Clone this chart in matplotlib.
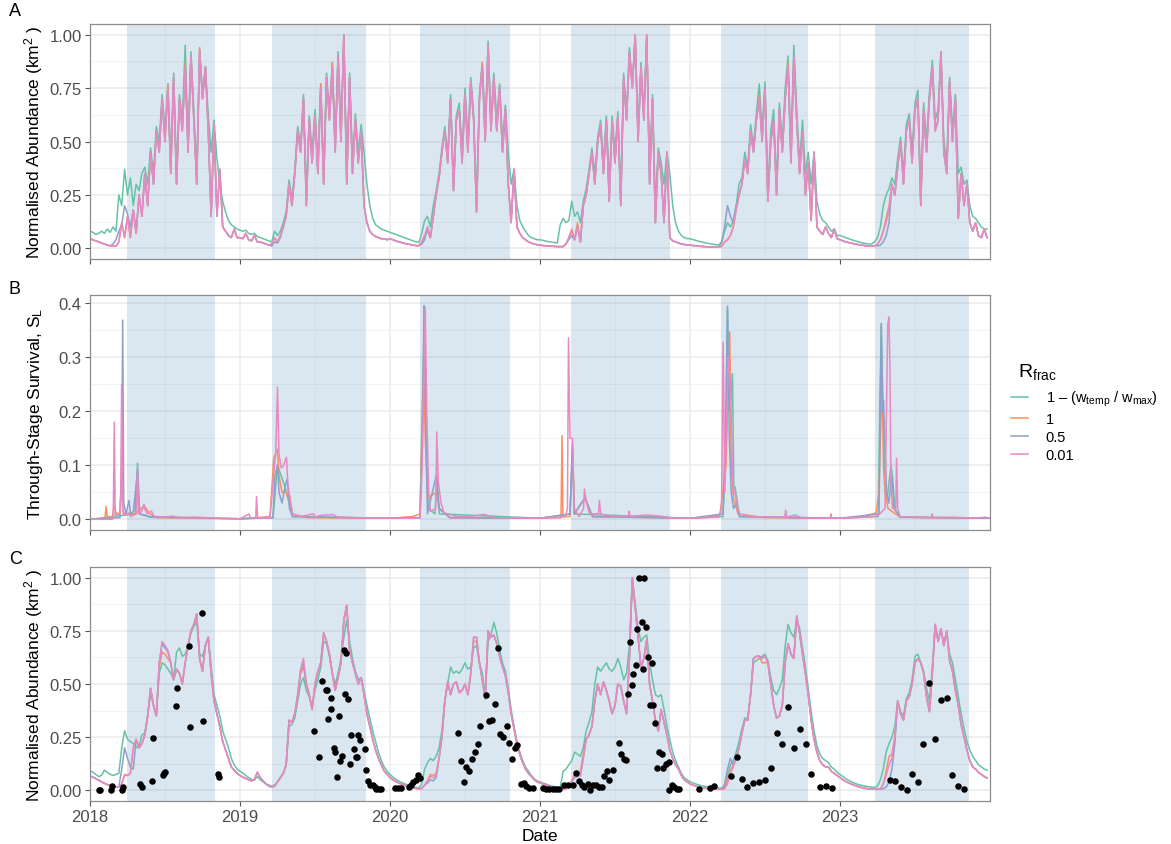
import numpy as np
import matplotlib
matplotlib.use("Agg")
import matplotlib.pyplot as plt
from matplotlib.lines import Line2D

plt.rcParams['font.family'] = 'Liberation Sans'
plt.rcParams['mathtext.fontset'] = 'custom'
plt.rcParams['mathtext.rm'] = 'Liberation Sans'
plt.rcParams['mathtext.it'] = 'Liberation Sans:italic'

# --- Season windows (decimal year) ---
season_start = [2018.246, 2019.215, 2020.198, 2021.204, 2022.209, 2023.233]
season_end = [2018.832, 2019.839, 2020.799, 2021.864, 2022.786, 2023.859]

years = [2018, 2019, 2020, 2021, 2022, 2023]

# --- Panel A: weekly normalised abundance, one row of 52 weeks per year ---
abund_pink = [
    0.045,0.04,0.035,0.03,0.025,0.02,0.015,0.012,0.01,0.01,0.03,0.12,0.05,0.15,0.05,0.18,0.07,0.25,0.15,0.35,0.2,0.45,0.3,0.55,0.45,0.7,
    0.5,0.75,0.35,0.8,0.3,0.7,0.55,0.85,0.45,0.9,0.6,0.3,0.92,0.7,0.85,0.55,0.15,0.58,0.15,0.37,0.1,0.08,0.06,0.05,0.09,0.05,
    0.05,0.045,0.07,0.04,0.035,0.06,0.03,0.03,0.025,0.02,0.015,0.02,0.05,0.03,0.06,0.1,0.15,0.3,0.2,0.35,0.55,0.45,0.7,0.2,0.6,0.4,
    0.62,0.35,0.75,0.3,0.8,0.6,0.85,0.45,0.9,0.5,1.0,0.3,0.8,0.35,0.6,0.4,0.55,0.2,0.12,0.08,0.065,0.055,0.05,0.045,0.045,0.04,
    0.045,0.04,0.035,0.03,0.027,0.023,0.02,0.018,0.015,0.013,0.012,0.03,0.06,0.1,0.05,0.15,0.25,0.33,0.45,0.55,0.4,0.7,0.27,0.6,0.65,0.4,
    0.72,0.45,0.78,0.6,0.17,0.7,0.85,0.5,0.95,0.55,0.8,0.55,0.75,0.45,0.65,0.3,0.12,0.37,0.1,0.07,0.05,0.04,0.03,0.025,0.02,0.017,
    0.015,0.013,0.012,0.01,0.01,0.009,0.008,0.008,0.008,0.02,0.05,0.08,0.04,0.1,0.03,0.2,0.25,0.35,0.45,0.3,0.5,0.58,0.35,0.6,0.22,0.6,
    0.4,0.62,0.2,0.8,0.6,0.92,0.75,1.0,0.5,0.85,0.6,1.0,0.3,0.7,0.12,0.45,0.35,0.12,0.45,0.05,0.035,0.03,0.025,0.02,0.018,0.015,
    0.015,0.013,0.012,0.01,0.009,0.008,0.007,0.006,0.006,0.005,0.005,0.01,0.03,0.04,0.06,0.1,0.18,0.25,0.3,0.42,0.35,0.55,0.45,0.6,0.7,0.5,
    0.75,0.22,0.5,0.6,0.25,0.65,0.45,0.7,0.85,0.4,0.9,0.6,0.35,0.55,0.25,0.4,0.13,0.45,0.1,0.08,0.065,0.1,0.07,0.05,0.09,0.045,
    0.04,0.035,0.03,0.027,0.024,0.021,0.018,0.016,0.014,0.012,0.01,0.01,0.012,0.02,0.04,0.08,0.12,0.18,0.3,0.25,0.38,0.5,0.3,0.55,0.6,0.4,
    0.65,0.7,0.2,0.65,0.45,0.7,0.85,0.55,0.6,0.92,0.45,0.35,0.78,0.5,0.7,0.14,0.35,0.2,0.3,0.12,0.08,0.12,0.06,0.05,0.09,0.05,
]
abund_orange = [
    0.045,0.04,0.035,0.03,0.025,0.02,0.015,0.012,0.01,0.01,0.03,0.12,0.05,0.15,0.05,0.18,0.07,0.25,0.15,0.35,0.2,0.45,0.3,0.55,0.45,0.7,
    0.5,0.77,0.35,0.8,0.3,0.7,0.55,0.87,0.45,0.9,0.6,0.3,0.94,0.7,0.85,0.55,0.15,0.58,0.15,0.37,0.1,0.08,0.06,0.05,0.09,0.05,
    0.05,0.045,0.07,0.04,0.035,0.06,0.03,0.03,0.025,0.02,0.015,0.02,0.05,0.03,0.06,0.1,0.15,0.3,0.2,0.35,0.55,0.45,0.7,0.2,0.6,0.4,
    0.62,0.35,0.77,0.3,0.8,0.6,0.87,0.45,0.9,0.5,1.0,0.3,0.8,0.35,0.6,0.4,0.55,0.2,0.12,0.08,0.065,0.055,0.05,0.045,0.045,0.04,
    0.045,0.04,0.035,0.03,0.027,0.023,0.02,0.018,0.015,0.013,0.012,0.03,0.06,0.08,0.05,0.15,0.25,0.33,0.45,0.55,0.4,0.7,0.27,0.6,0.65,0.4,
    0.72,0.45,0.78,0.6,0.17,0.7,0.87,0.5,0.95,0.55,0.8,0.55,0.75,0.45,0.65,0.3,0.12,0.37,0.1,0.07,0.05,0.04,0.03,0.025,0.02,0.017,
    0.015,0.013,0.012,0.01,0.01,0.009,0.008,0.008,0.008,0.02,0.05,0.09,0.04,0.12,0.03,0.2,0.25,0.35,0.45,0.3,0.5,0.58,0.35,0.6,0.22,0.6,
    0.4,0.62,0.2,0.8,0.6,0.92,0.75,1.0,0.5,0.85,0.6,1.0,0.3,0.7,0.12,0.45,0.35,0.12,0.45,0.05,0.035,0.03,0.025,0.02,0.018,0.015,
    0.015,0.013,0.012,0.01,0.009,0.008,0.007,0.006,0.006,0.005,0.005,0.01,0.03,0.04,0.06,0.1,0.18,0.25,0.3,0.42,0.35,0.55,0.45,0.6,0.72,0.5,
    0.75,0.22,0.5,0.6,0.25,0.65,0.45,0.7,0.87,0.4,0.9,0.6,0.35,0.55,0.25,0.4,0.13,0.45,0.1,0.08,0.065,0.1,0.07,0.05,0.09,0.045,
    0.04,0.035,0.03,0.027,0.024,0.021,0.018,0.016,0.014,0.012,0.01,0.01,0.012,0.02,0.04,0.08,0.14,0.2,0.3,0.25,0.38,0.5,0.3,0.55,0.6,0.4,
    0.65,0.7,0.2,0.65,0.45,0.7,0.85,0.55,0.6,0.92,0.45,0.35,0.78,0.5,0.7,0.14,0.35,0.2,0.3,0.12,0.08,0.12,0.06,0.05,0.09,0.05,
]
abund_blue = [
    0.045,0.04,0.035,0.03,0.025,0.02,0.015,0.012,0.02,0.04,0.08,0.11,0.2,0.16,0.1,0.18,0.07,0.25,0.15,0.35,0.2,0.45,0.3,0.55,0.45,0.7,
    0.5,0.75,0.35,0.8,0.3,0.7,0.55,0.85,0.45,0.9,0.6,0.3,0.92,0.7,0.85,0.55,0.15,0.58,0.15,0.37,0.1,0.08,0.06,0.05,0.09,0.05,
    0.05,0.045,0.07,0.04,0.035,0.06,0.03,0.03,0.025,0.02,0.015,0.01,0.03,0.025,0.05,0.1,0.15,0.3,0.2,0.35,0.55,0.45,0.7,0.2,0.6,0.4,
    0.62,0.35,0.75,0.3,0.8,0.6,0.85,0.45,0.9,0.5,1.0,0.3,0.8,0.35,0.6,0.4,0.55,0.2,0.12,0.08,0.065,0.055,0.05,0.045,0.045,0.04,
    0.045,0.04,0.035,0.03,0.027,0.023,0.02,0.018,0.015,0.013,0.012,0.02,0.04,0.1,0.05,0.15,0.25,0.33,0.45,0.55,0.4,0.7,0.27,0.6,0.65,0.4,
    0.72,0.45,0.78,0.6,0.17,0.7,0.85,0.5,0.95,0.55,0.8,0.55,0.75,0.45,0.65,0.3,0.12,0.37,0.1,0.07,0.05,0.04,0.03,0.025,0.02,0.017,
    0.015,0.013,0.012,0.01,0.01,0.009,0.008,0.008,0.008,0.02,0.04,0.06,0.04,0.1,0.03,0.2,0.25,0.35,0.45,0.3,0.5,0.58,0.35,0.6,0.22,0.6,
    0.4,0.62,0.2,0.8,0.6,0.92,0.75,1.0,0.5,0.85,0.6,1.0,0.3,0.7,0.12,0.45,0.35,0.12,0.45,0.05,0.035,0.03,0.025,0.02,0.018,0.015,
    0.015,0.013,0.012,0.01,0.009,0.008,0.007,0.006,0.006,0.005,0.005,0.03,0.1,0.2,0.15,0.12,0.2,0.25,0.3,0.42,0.35,0.55,0.45,0.6,0.7,0.5,
    0.75,0.22,0.5,0.6,0.25,0.65,0.45,0.7,0.85,0.4,0.9,0.6,0.35,0.55,0.25,0.4,0.13,0.45,0.1,0.08,0.065,0.1,0.07,0.05,0.09,0.045,
    0.04,0.035,0.03,0.027,0.024,0.021,0.018,0.016,0.014,0.012,0.01,0.01,0.012,0.012,0.015,0.03,0.06,0.12,0.3,0.25,0.38,0.5,0.3,0.55,0.6,0.4,
    0.65,0.7,0.2,0.65,0.45,0.7,0.85,0.55,0.6,0.92,0.45,0.35,0.78,0.5,0.7,0.14,0.35,0.2,0.3,0.12,0.08,0.12,0.06,0.05,0.09,0.05,
]
abund_green = [
    0.08,0.075,0.065,0.07,0.08,0.07,0.09,0.075,0.1,0.08,0.25,0.2,0.37,0.25,0.33,0.2,0.3,0.27,0.35,0.38,0.3,0.47,0.35,0.57,0.5,0.72,
    0.55,0.77,0.4,0.82,0.35,0.72,0.6,0.95,0.5,0.92,0.65,0.35,0.93,0.72,0.85,0.62,0.45,0.6,0.42,0.3,0.22,0.17,0.13,0.11,0.1,0.09,
    0.085,0.08,0.085,0.07,0.065,0.07,0.055,0.05,0.045,0.04,0.035,0.03,0.08,0.06,0.08,0.12,0.17,0.32,0.23,0.37,0.57,0.48,0.72,0.25,0.62,0.45,
    0.65,0.4,0.77,0.35,0.82,0.63,0.87,0.5,0.92,0.55,0.97,0.35,0.82,0.4,0.63,0.45,0.58,0.45,0.3,0.2,0.14,0.11,0.1,0.09,0.085,0.08,
    0.075,0.07,0.065,0.06,0.055,0.05,0.045,0.04,0.035,0.03,0.028,0.07,0.13,0.15,0.1,0.2,0.27,0.35,0.47,0.57,0.43,0.72,0.3,0.62,0.68,0.45,
    0.75,0.5,0.8,0.63,0.22,0.72,0.87,0.55,0.97,0.6,0.82,0.6,0.77,0.5,0.67,0.45,0.3,0.37,0.2,0.13,0.1,0.08,0.06,0.05,0.045,0.04,
    0.04,0.037,0.034,0.031,0.029,0.027,0.025,0.11,0.14,0.12,0.13,0.22,0.15,0.17,0.12,0.22,0.28,0.37,0.47,0.35,0.52,0.6,0.4,0.62,0.3,0.62,
    0.45,0.64,0.25,0.82,0.63,0.94,0.77,0.98,0.55,0.87,0.63,0.98,0.35,0.72,0.2,0.47,0.4,0.3,0.45,0.35,0.2,0.12,0.08,0.06,0.05,0.045,
    0.045,0.041,0.037,0.033,0.03,0.027,0.024,0.021,0.019,0.017,0.015,0.03,0.08,0.12,0.1,0.13,0.2,0.3,0.33,0.45,0.38,0.58,0.48,0.63,0.77,0.55,
    0.78,0.27,0.55,0.65,0.3,0.68,0.5,0.75,0.9,0.45,0.95,0.65,0.4,0.6,0.35,0.45,0.3,0.45,0.22,0.16,0.13,0.12,0.1,0.08,0.09,0.06,
    0.06,0.055,0.05,0.045,0.04,0.036,0.032,0.028,0.025,0.022,0.02,0.02,0.03,0.05,0.1,0.2,0.25,0.28,0.33,0.3,0.42,0.52,0.35,0.58,0.63,0.45,
    0.68,0.74,0.25,0.68,0.5,0.73,0.88,0.6,0.65,0.9,0.5,0.4,0.8,0.55,0.72,0.35,0.38,0.3,0.32,0.2,0.15,0.14,0.12,0.1,0.09,0.09,
]

# --- Panel B: through-stage survival, knots (decimal year, value) ---
surv_green_t = [2018.0, 2018.3, 2018.317, 2018.33, 2018.4,
                2019.0, 2019.22, 2019.25, 2019.3, 2019.35,
                2020.0, 2020.2, 2020.215, 2020.23, 2020.24, 2020.255, 2020.3, 2020.312, 2020.33,
                2021.0, 2021.2, 2021.217, 2021.23,
                2022.0, 2022.22, 2022.235, 2022.25, 2022.265, 2022.283, 2022.292, 2022.3, 2022.33,
                2023.0, 2023.255, 2023.265, 2023.275, 2023.285, 2023.3, 2023.315, 2023.34, 2023.35, 2023.365, 2023.4, 2024.0]
surv_green_v = [0.0, 0.01, 0.104, 0.01, 0.004,
                0.001, 0.003, 0.1, 0.06, 0.005,
                0.002, 0.003, 0.2, 0.395, 0.15, 0.02, 0.01, 0.08, 0.01,
                0.002, 0.01, 0.13, 0.01,
                0.002, 0.005, 0.1, 0.39, 0.2, 0.27, 0.06, 0.06, 0.005,
                0.002, 0.005, 0.2, 0.36, 0.22, 0.06, 0.04, 0.1, 0.08, 0.02, 0.004, 0.002]

surv_orange_t = [2018.0, 2018.1, 2018.107, 2018.115, 2018.15, 2018.16, 2018.175, 2018.2, 2018.211, 2018.22, 2018.3, 2018.36, 2018.4, 2018.45,
                 2019.0, 2019.2, 2019.225, 2019.25, 2019.26, 2019.28, 2019.31, 2019.318, 2019.33, 2019.35, 2019.45,
                 2020.0, 2020.15, 2020.2, 2020.224, 2020.235, 2020.25, 2020.312, 2020.33, 2020.4,
                 2021.0, 2021.14, 2021.147, 2021.153, 2021.2, 2021.217, 2021.23, 2021.3, 2021.35,
                 2022.0, 2022.1, 2022.2, 2022.24, 2022.265, 2022.275, 2022.29, 2022.32, 2022.5,
                 2023.0, 2023.15, 2023.24, 2023.26, 2023.28, 2023.29, 2023.3, 2023.32, 2023.4, 2024.0]
surv_orange_v = [0.0, 0.002, 0.024, 0.005, 0.005, 0.025, 0.012, 0.01, 0.09, 0.01, 0.01, 0.025, 0.01, 0.003,
                 0.001, 0.005, 0.113, 0.13, 0.08, 0.05, 0.05, 0.04, 0.045, 0.01, 0.003,
                 0.002, 0.005, 0.01, 0.283, 0.15, 0.04, 0.05, 0.02, 0.003,
                 0.002, 0.003, 0.155, 0.005, 0.005, 0.13, 0.01, 0.04, 0.005,
                 0.002, 0.004, 0.008, 0.1, 0.347, 0.1, 0.04, 0.01, 0.003,
                 0.002, 0.005, 0.012, 0.05, 0.263, 0.1, 0.05, 0.02, 0.004, 0.002]

surv_blue_t = [2018.0, 2018.2, 2018.212, 2018.218, 2018.225, 2018.24, 2018.26, 2018.27, 2018.29, 2018.317, 2018.33, 2018.4,
               2019.0, 2019.22, 2019.232, 2019.25, 2019.26, 2019.28, 2019.3, 2019.315, 2019.33, 2019.35,
               2020.0, 2020.2, 2020.22, 2020.226, 2020.237, 2020.25, 2020.31, 2020.325, 2020.4,
               2021.0, 2021.2, 2021.215, 2021.228, 2021.3, 2021.35,
               2022.0, 2022.22, 2022.24, 2022.25, 2022.262, 2022.275, 2022.29, 2022.31, 2022.33,
               2023.0, 2023.26, 2023.275, 2023.285, 2023.29, 2023.31, 2023.325, 2023.345, 2023.36, 2023.4, 2024.0]
surv_blue_v = [0.0, 0.003, 0.1, 0.369, 0.03, 0.01, 0.035, 0.01, 0.015, 0.09, 0.01, 0.005,
               0.001, 0.003, 0.08, 0.1, 0.05, 0.03, 0.06, 0.075, 0.02, 0.005,
               0.002, 0.003, 0.2, 0.396, 0.2, 0.01, 0.084, 0.02, 0.003,
               0.002, 0.01, 0.14, 0.01, 0.04, 0.005,
               0.002, 0.01, 0.2, 0.395, 0.15, 0.05, 0.02, 0.03, 0.005,
               0.002, 0.01, 0.363, 0.2, 0.22, 0.05, 0.03, 0.08, 0.02, 0.004, 0.002]

surv_pink_t = [2018.0, 2018.15, 2018.155, 2018.162, 2018.168, 2018.2, 2018.205, 2018.211, 2018.218, 2018.23,
               2018.26, 2018.27, 2018.31, 2018.317, 2018.325, 2018.345, 2018.36, 2018.367, 2018.38, 2018.41,
               2018.43, 2018.5, 2018.55, 2018.6, 2018.7, 2018.85,
               2019.0, 2019.06, 2019.07, 2019.105, 2019.11, 2019.118, 2019.2, 2019.23, 2019.238, 2019.25,
               2019.26, 2019.275, 2019.29, 2019.31, 2019.318, 2019.33, 2019.35, 2019.4, 2019.49, 2019.5,
               2019.53, 2019.62, 2019.65, 2019.75, 2019.9,
               2020.0, 2020.2, 2020.215, 2020.235, 2020.245, 2020.258, 2020.27, 2020.305, 2020.312, 2020.322,
               2020.34, 2020.36, 2020.45, 2020.55, 2020.63, 2020.7,
               2021.0, 2021.17, 2021.183, 2021.19, 2021.2, 2021.217, 2021.228, 2021.26, 2021.29, 2021.296,
               2021.31, 2021.33, 2021.39, 2021.396, 2021.405, 2021.5, 2021.59, 2021.595, 2021.6, 2021.7,
               2021.8, 2021.9,
               2022.0, 2022.19, 2022.21, 2022.221, 2022.232, 2022.255, 2022.27, 2022.28, 2022.29, 2022.3,
               2022.31, 2022.33, 2022.4, 2022.632, 2022.638, 2022.645, 2022.7, 2022.75, 2022.935, 2022.94,
               2022.945,
               2023.0, 2023.1, 2023.25, 2023.3, 2023.31, 2023.318, 2023.326, 2023.333, 2023.34, 2023.35,
               2023.372, 2023.377, 2023.385, 2023.4, 2023.5, 2023.61, 2023.615, 2023.62, 2023.75, 2023.9,
               2023.97, 2024.0]
surv_pink_v = [0.0, 0.0, 0.005, 0.18, 0.008, 0.01, 0.05, 0.25, 0.02, 0.008,
               0.012, 0.005, 0.01, 0.095, 0.01, 0.015, 0.028, 0.018, 0.01, 0.015,
               0.003, 0.004, 0.006, 0.003, 0.004, 0.002,
               0.001, 0.01, 0.002, 0.003, 0.042, 0.002, 0.003, 0.1, 0.12, 0.245,
               0.12, 0.095, 0.1, 0.115, 0.07, 0.04, 0.01, 0.005, 0.01, 0.004,
               0.007, 0.009, 0.004, 0.003, 0.002,
               0.002, 0.002, 0.1, 0.392, 0.2, 0.05, 0.015, 0.02, 0.162, 0.07,
               0.03, 0.012, 0.005, 0.006, 0.009, 0.003,
               0.002, 0.005, 0.02, 0.336, 0.15, 0.15, 0.02, 0.005, 0.02, 0.056,
               0.03, 0.01, 0.01, 0.035, 0.01, 0.005, 0.006, 0.015, 0.005, 0.008,
               0.006, 0.002,
               0.002, 0.004, 0.02, 0.328, 0.05, 0.3, 0.25, 0.12, 0.045, 0.055,
               0.03, 0.01, 0.005, 0.004, 0.017, 0.004, 0.008, 0.002, 0.002, 0.01,
               0.002,
               0.002, 0.003, 0.006, 0.02, 0.2, 0.36, 0.375, 0.28, 0.06, 0.02,
               0.02, 0.113, 0.02, 0.005, 0.004, 0.003, 0.01, 0.003, 0.004, 0.002,
               0.004, 0.002]

# --- Panel C: smoothed weekly abundance, 52 weeks per year ---
smooth_pink = [
    0.068,0.062,0.055,0.048,0.04,0.033,0.027,0.022,0.018,0.016,0.015,0.03,0.07,0.07,0.08,0.2,0.24,0.2,0.22,0.26,0.35,0.48,0.4,0.35,0.6,0.7,
    0.68,0.66,0.6,0.52,0.57,0.55,0.5,0.6,0.68,0.75,0.78,0.83,0.62,0.56,0.68,0.72,0.55,0.42,0.36,0.3,0.23,0.19,0.15,0.11,0.095,0.08,
    0.07,0.062,0.056,0.05,0.045,0.05,0.085,0.06,0.045,0.03,0.02,0.015,0.02,0.04,0.06,0.08,0.12,0.33,0.32,0.36,0.45,0.57,0.62,0.5,0.45,0.38,
    0.5,0.56,0.6,0.74,0.7,0.64,0.55,0.47,0.53,0.6,0.8,0.87,0.66,0.6,0.55,0.5,0.53,0.45,0.36,0.3,0.24,0.19,0.15,0.12,0.09,0.075,
    0.06,0.05,0.042,0.035,0.029,0.024,0.019,0.015,0.012,0.009,0.006,0.01,0.025,0.045,0.065,0.06,0.07,0.15,0.25,0.42,0.51,0.45,0.5,0.51,0.46,0.47,
    0.5,0.45,0.55,0.72,0.72,0.6,0.52,0.43,0.75,0.72,0.73,0.69,0.63,0.58,0.54,0.46,0.36,0.29,0.22,0.17,0.13,0.1,0.08,0.065,0.05,0.04,
    0.035,0.03,0.025,0.02,0.016,0.013,0.01,0.008,0.006,0.008,0.02,0.045,0.07,0.065,0.07,0.15,0.24,0.26,0.3,0.42,0.5,0.45,0.51,0.47,0.42,0.36,
    0.4,0.5,0.49,0.42,0.36,0.62,1.0,0.86,0.72,0.58,0.62,0.71,0.5,0.42,0.33,0.28,0.38,0.32,0.26,0.19,0.15,0.12,0.1,0.07,0.05,0.04,
    0.03,0.025,0.02,0.016,0.013,0.011,0.009,0.008,0.007,0.006,0.005,0.005,0.008,0.03,0.08,0.11,0.15,0.2,0.27,0.33,0.33,0.45,0.62,0.63,0.63,0.62,
    0.63,0.6,0.5,0.4,0.34,0.35,0.4,0.6,0.69,0.64,0.62,0.82,0.74,0.64,0.55,0.45,0.33,0.24,0.18,0.14,0.12,0.11,0.11,0.09,0.08,0.07,
    0.06,0.05,0.042,0.035,0.029,0.024,0.019,0.015,0.012,0.009,0.007,0.006,0.005,0.005,0.006,0.03,0.07,0.12,0.15,0.25,0.42,0.36,0.33,0.42,0.44,0.5,
    0.6,0.62,0.6,0.55,0.44,0.37,0.55,0.78,0.7,0.76,0.68,0.75,0.61,0.56,0.47,0.4,0.31,0.25,0.19,0.14,0.11,0.1,0.085,0.075,0.065,0.058,
]
smooth_orange = [
    0.068,0.062,0.055,0.048,0.04,0.033,0.027,0.022,0.018,0.016,0.015,0.03,0.075,0.07,0.08,0.2,0.24,0.2,0.22,0.26,0.35,0.48,0.4,0.35,0.58,0.65,
    0.64,0.62,0.6,0.52,0.57,0.55,0.5,0.6,0.68,0.75,0.78,0.83,0.62,0.56,0.68,0.72,0.55,0.42,0.36,0.3,0.23,0.19,0.15,0.11,0.095,0.08,
    0.07,0.062,0.056,0.05,0.045,0.05,0.085,0.06,0.045,0.03,0.02,0.015,0.02,0.04,0.06,0.08,0.12,0.33,0.32,0.36,0.44,0.55,0.58,0.5,0.45,0.38,
    0.5,0.56,0.6,0.74,0.7,0.64,0.55,0.47,0.53,0.6,0.8,0.87,0.66,0.6,0.55,0.5,0.53,0.45,0.36,0.3,0.24,0.19,0.15,0.12,0.09,0.075,
    0.06,0.05,0.042,0.035,0.029,0.024,0.019,0.015,0.012,0.009,0.006,0.01,0.025,0.045,0.075,0.07,0.08,0.15,0.25,0.42,0.51,0.45,0.5,0.51,0.46,0.47,
    0.5,0.45,0.55,0.7,0.7,0.6,0.52,0.43,0.75,0.72,0.73,0.69,0.63,0.58,0.54,0.46,0.36,0.29,0.22,0.17,0.13,0.1,0.08,0.065,0.05,0.04,
    0.035,0.03,0.025,0.02,0.016,0.013,0.01,0.008,0.006,0.008,0.02,0.045,0.08,0.075,0.09,0.17,0.24,0.26,0.3,0.42,0.5,0.45,0.51,0.47,0.42,0.36,
    0.4,0.5,0.49,0.42,0.36,0.62,1.0,0.86,0.72,0.58,0.62,0.71,0.5,0.42,0.33,0.28,0.38,0.32,0.26,0.19,0.15,0.12,0.1,0.07,0.05,0.04,
    0.03,0.025,0.02,0.016,0.013,0.011,0.009,0.008,0.007,0.006,0.005,0.005,0.008,0.05,0.09,0.12,0.15,0.2,0.27,0.33,0.33,0.45,0.62,0.63,0.63,0.6,
    0.6,0.6,0.5,0.4,0.34,0.35,0.4,0.6,0.69,0.64,0.62,0.82,0.74,0.64,0.55,0.45,0.33,0.24,0.18,0.14,0.12,0.11,0.11,0.09,0.08,0.07,
    0.06,0.05,0.042,0.035,0.029,0.024,0.019,0.015,0.012,0.009,0.007,0.006,0.005,0.005,0.006,0.03,0.09,0.16,0.17,0.25,0.42,0.36,0.33,0.42,0.44,0.5,
    0.6,0.62,0.6,0.55,0.44,0.37,0.55,0.78,0.7,0.76,0.68,0.75,0.61,0.56,0.47,0.4,0.31,0.25,0.19,0.14,0.11,0.1,0.085,0.075,0.065,0.058,
]
smooth_blue = [
    0.068,0.062,0.055,0.048,0.04,0.033,0.027,0.022,0.018,0.016,0.015,0.1,0.2,0.15,0.11,0.1,0.24,0.2,0.22,0.26,0.35,0.48,0.4,0.35,0.6,0.69,
    0.67,0.65,0.6,0.52,0.57,0.55,0.5,0.6,0.68,0.75,0.78,0.83,0.62,0.56,0.68,0.72,0.55,0.42,0.36,0.3,0.23,0.19,0.15,0.11,0.095,0.08,
    0.07,0.062,0.056,0.05,0.045,0.05,0.085,0.06,0.045,0.03,0.02,0.015,0.02,0.04,0.06,0.08,0.12,0.33,0.32,0.36,0.45,0.56,0.6,0.5,0.45,0.38,
    0.5,0.56,0.6,0.74,0.7,0.64,0.55,0.47,0.53,0.6,0.8,0.87,0.66,0.6,0.55,0.5,0.53,0.45,0.36,0.3,0.24,0.19,0.15,0.12,0.09,0.075,
    0.06,0.05,0.042,0.035,0.029,0.024,0.019,0.015,0.012,0.009,0.006,0.01,0.025,0.035,0.05,0.045,0.06,0.15,0.25,0.42,0.51,0.45,0.5,0.51,0.46,0.47,
    0.5,0.45,0.55,0.72,0.72,0.6,0.52,0.43,0.75,0.72,0.73,0.69,0.63,0.58,0.54,0.46,0.36,0.29,0.22,0.17,0.13,0.1,0.08,0.065,0.05,0.04,
    0.035,0.03,0.025,0.02,0.016,0.013,0.01,0.008,0.006,0.008,0.02,0.04,0.06,0.065,0.07,0.15,0.24,0.26,0.3,0.42,0.5,0.45,0.51,0.47,0.42,0.36,
    0.4,0.5,0.49,0.42,0.36,0.62,1.0,0.86,0.72,0.58,0.62,0.71,0.5,0.42,0.33,0.28,0.38,0.32,0.26,0.19,0.15,0.12,0.1,0.07,0.05,0.04,
    0.03,0.025,0.02,0.016,0.013,0.011,0.009,0.008,0.007,0.006,0.005,0.005,0.03,0.1,0.15,0.12,0.15,0.2,0.27,0.33,0.33,0.45,0.62,0.63,0.63,0.62,
    0.63,0.6,0.5,0.4,0.34,0.35,0.4,0.6,0.69,0.64,0.62,0.82,0.74,0.64,0.55,0.45,0.33,0.24,0.18,0.14,0.12,0.11,0.11,0.09,0.08,0.07,
    0.06,0.05,0.042,0.035,0.029,0.024,0.019,0.015,0.012,0.009,0.007,0.006,0.005,0.005,0.006,0.008,0.015,0.04,0.1,0.22,0.42,0.36,0.33,0.42,0.44,0.5,
    0.6,0.62,0.6,0.55,0.44,0.37,0.55,0.78,0.7,0.76,0.68,0.75,0.61,0.56,0.47,0.4,0.31,0.25,0.19,0.14,0.11,0.1,0.085,0.075,0.065,0.058,
]
smooth_green = [
    0.092,0.085,0.075,0.065,0.07,0.095,0.085,0.075,0.07,0.075,0.08,0.2,0.28,0.24,0.23,0.22,0.2,0.21,0.26,0.27,0.35,0.46,0.4,0.36,0.55,0.6,
    0.59,0.57,0.55,0.52,0.65,0.67,0.63,0.64,0.68,0.74,0.77,0.79,0.64,0.63,0.68,0.72,0.58,0.45,0.4,0.35,0.28,0.24,0.2,0.15,0.12,0.1,
    0.09,0.08,0.07,0.06,0.052,0.048,0.065,0.05,0.04,0.03,0.025,0.02,0.025,0.04,0.06,0.08,0.12,0.3,0.31,0.34,0.42,0.5,0.53,0.47,0.44,0.4,
    0.47,0.52,0.58,0.7,0.69,0.63,0.55,0.5,0.55,0.62,0.72,0.8,0.7,0.62,0.56,0.52,0.53,0.47,0.4,0.34,0.28,0.23,0.18,0.14,0.11,0.09,
    0.075,0.062,0.052,0.044,0.037,0.031,0.026,0.021,0.017,0.014,0.012,0.03,0.1,0.13,0.15,0.14,0.16,0.2,0.28,0.42,0.5,0.58,0.55,0.56,0.55,0.57,
    0.6,0.57,0.58,0.67,0.68,0.6,0.55,0.45,0.7,0.73,0.79,0.74,0.66,0.6,0.56,0.48,0.38,0.3,0.23,0.18,0.14,0.11,0.09,0.07,0.055,0.045,
    0.04,0.035,0.03,0.025,0.021,0.018,0.015,0.012,0.09,0.1,0.12,0.14,0.18,0.17,0.16,0.2,0.28,0.32,0.37,0.5,0.58,0.56,0.58,0.6,0.57,0.56,
    0.58,0.62,0.58,0.52,0.55,0.68,0.98,0.88,0.76,0.7,0.72,0.73,0.6,0.52,0.45,0.44,0.45,0.38,0.3,0.24,0.18,0.14,0.11,0.08,0.06,0.05,
    0.04,0.035,0.03,0.026,0.022,0.019,0.017,0.015,0.013,0.012,0.011,0.011,0.015,0.07,0.12,0.14,0.18,0.23,0.29,0.34,0.34,0.45,0.6,0.61,0.62,0.63,
    0.64,0.61,0.53,0.47,0.45,0.48,0.52,0.68,0.78,0.74,0.72,0.8,0.76,0.67,0.58,0.48,0.37,0.28,0.21,0.17,0.15,0.14,0.13,0.11,0.1,0.085,
    0.075,0.065,0.055,0.047,0.04,0.034,0.029,0.025,0.022,0.019,0.017,0.015,0.014,0.02,0.05,0.1,0.18,0.22,0.25,0.3,0.42,0.37,0.35,0.43,0.46,0.52,
    0.63,0.64,0.6,0.56,0.48,0.42,0.58,0.77,0.71,0.75,0.7,0.74,0.64,0.6,0.52,0.44,0.36,0.29,0.23,0.19,0.16,0.14,0.12,0.11,0.1,0.095,
]

# --- Panel C: observed abundance (decimal year, value) ---
obs_t = [2018.06, 2018.067, 2018.14, 2018.144, 2018.211, 2018.218, 2018.333, 2018.344, 2018.41, 2018.417,
         2018.484, 2018.493, 2018.499, 2018.573, 2018.577, 2018.666, 2018.661, 2018.744, 2018.75, 2018.854, 2018.859,
         2019.491, 2019.527, 2019.549, 2019.571, 2019.582, 2019.587, 2019.605, 2019.609, 2019.627, 2019.636,
         2019.647, 2019.66, 2019.664, 2019.682, 2019.691, 2019.698, 2019.709, 2019.72, 2019.735, 2019.742,
         2019.76, 2019.771, 2019.782, 2019.787, 2019.798, 2019.835, 2019.838, 2019.853, 2019.864, 2019.886,
         2019.898, 2019.909, 2019.926, 2019.937,
         2020.031, 2020.053, 2020.075, 2020.126, 2020.142, 2020.153, 2020.171, 2020.186, 2020.202,
         2020.452, 2020.47, 2020.49, 2020.508, 2020.525, 2020.548, 2020.568, 2020.585, 2020.603,
         2020.641, 2020.663, 2020.681, 2020.7, 2020.718, 2020.734, 2020.756, 2020.778, 2020.796, 2020.814,
         2020.83, 2020.847, 2020.874, 2020.89, 2020.907, 2020.929, 2020.952,
         2021.018, 2021.041, 2021.063, 2021.085, 2021.107, 2021.129,
         2021.162, 2021.185, 2021.218, 2021.24, 2021.258, 2021.28, 2021.296, 2021.318, 2021.334, 2021.356,
         2021.373, 2021.396, 2021.413, 2021.429, 2021.447, 2021.462, 2021.484, 2021.524, 2021.54, 2021.562,
         2021.573, 2021.584, 2021.6, 2021.61, 2021.622, 2021.64, 2021.644, 2021.657, 2021.677, 2021.684,
         2021.695, 2021.706, 2021.717, 2021.733, 2021.746, 2021.75, 2021.768, 2021.779, 2021.791, 2021.81,
         2021.822, 2021.84, 2021.857, 2021.857, 2021.879, 2021.895, 2021.912, 2021.928,
         2022.061, 2022.135, 2022.157, 2022.272, 2022.31, 2022.349, 2022.383, 2022.423, 2022.461, 2022.501,
         2022.543, 2022.578, 2022.616, 2022.656, 2022.694, 2022.731, 2022.772, 2022.809, 2022.867, 2022.905,
         2022.944,
         2023.331, 2023.366, 2023.404, 2023.444, 2023.482, 2023.519, 2023.555, 2023.592, 2023.632, 2023.67,
         2023.71, 2023.748, 2023.786, 2023.826]
obs_v = [0.0, 0.0, 0.003, 0.02, 0.0, 0.015, 0.03, 0.014, 0.045, 0.248,
         0.073, 0.08, 0.086, 0.397, 0.483, 0.296, 0.678, 0.832, 0.327, 0.078, 0.064,
         0.279, 0.156, 0.516, 0.474, 0.47, 0.335, 0.382, 0.433, 0.198, 0.182,
         0.064, 0.349, 0.137, 0.162, 0.662, 0.452, 0.646, 0.428, 0.126, 0.259,
         0.196, 0.159, 0.159, 0.26, 0.235, 0.196, 0.097, 0.042, 0.026, 0.023,
         0.014, 0.008, 0.008, 0.008,
         0.01, 0.01, 0.01, 0.015, 0.026, 0.04, 0.05, 0.07, 0.06,
         0.268, 0.14, 0.037, 0.109, 0.092, 0.146, 0.18, 0.217, 0.304,
         0.447, 0.327, 0.333, 0.405, 0.67, 0.263, 0.252, 0.304, 0.224, 0.146,
         0.198, 0.213, 0.031, 0.034, 0.022, 0.011, 0.011,
         0.011, 0.008, 0.008, 0.008, 0.008, 0.008,
         0.023, 0.023, 0.023, 0.08, 0.045, 0.023, 0.016, 0.03, 0.003, 0.023,
         0.023, 0.014, 0.014, 0.068, 0.092, 0.05, 0.097, 0.224, 0.171, 0.146,
         0.143, 0.452, 0.696, 0.497, 0.548, 0.59, 0.759, 1.0, 0.793, 0.569,
         1.0, 0.766, 0.626, 0.4, 0.6, 0.4, 0.319, 0.107, 0.179, 0.171,
         0.107, 0.125, 0.135, 0.0, 0.023, 0.014, 0.008, 0.008,
         0.008, 0.011, 0.022, 0.068, 0.156, 0.053, 0.014, 0.034, 0.037, 0.047,
         0.104, 0.268, 0.218, 0.393, 0.2, 0.287, 0.218, 0.078, 0.014, 0.019,
         0.011,
         0.05, 0.042, 0.014, 0.003, 0.076, 0.039, 0.218, 0.506, 0.24, 0.427,
         0.435, 0.07, 0.019, 0.008]

series_labels = ['1 – (w$\\mathregular{_{temp}}$ / w$\\mathregular{_{max}}$)', '1', '0.5', '0.01']
colours = ['#66C2A5', '#FC8D62', '#8DA0CB', '#E78AC3']

# weekly time grid shared by panels A and C
week_t = np.concatenate([y + np.arange(52) / 52 for y in years])
for arr in (abund_pink, abund_orange, abund_blue, abund_green,
            smooth_pink, smooth_orange, smooth_blue, smooth_green):
    assert len(arr) == len(week_t), len(arr)
assert len(obs_t) == len(obs_v)

# --- Figure layout ---
fig = plt.figure(figsize=(11.71, 8.45), dpi=100)
left, width = 90 / 1171, 900 / 1171
ax_a = fig.add_axes([left, 1 - 260 / 845, width, 235 / 845])
ax_b = fig.add_axes([left, 1 - 531 / 845, width, 235 / 845])
ax_c = fig.add_axes([left, 1 - 802 / 845, width, 234 / 845])


def style_panel(ax, ymajor, yminor, ylim, ylabels):
    ax.set_xlim(2018, 2024)
    ax.set_ylim(*ylim)
    ax.set_xticks(years)
    ax.set_xticklabels([str(y) for y in years])
    ax.set_xticks(np.arange(2018.5, 2024, 1), minor=True)
    ax.set_yticks(ymajor)
    ax.set_yticklabels(ylabels)
    ax.set_yticks(yminor, minor=True)
    ax.set_axisbelow(True)
    ax.grid(which='major', color='#EBEBEB', lw=1.1)
    ax.grid(which='minor', color='#F2F2F2', lw=0.6)
    for sp in ax.spines.values():
        sp.set_color('#8C8C8C')
        sp.set_linewidth(0.9)
    ax.tick_params(which='major', length=3.5, width=0.8, color='#555555',
                   labelsize=12, labelcolor='#4D4D4D', pad=2.5)
    ax.tick_params(which='minor', length=0)
    for s, e in zip(season_start, season_end):
        ax.axvspan(s, e, color='steelblue', alpha=0.2, lw=0, zorder=1)
    ax.yaxis.set_label_coords(-0.05, 0.5)


abund_ticks = [0, 0.25, 0.5, 0.75, 1.0]
abund_minor = [0.125, 0.375, 0.625, 0.875]
abund_labels = ['0.00', '0.25', '0.50', '0.75', '1.00']

# Panel A
style_panel(ax_a, abund_ticks, abund_minor, (-0.05, 1.05), abund_labels)
for vals, col in zip([abund_green, abund_orange, abund_blue, abund_pink], colours):
    ax_a.plot(week_t, vals, color=col, lw=1.1, zorder=2)
ax_a.tick_params(labelbottom=False)
ax_a.set_ylabel('Normalised Abundance (km$\\mathregular{^2}$ )', fontsize=12.5)

# Panel B
style_panel(ax_b, [0, 0.1, 0.2, 0.3, 0.4], [0.05, 0.15, 0.25, 0.35],
            (-0.0198, 0.4155), ['0.0', '0.1', '0.2', '0.3', '0.4'])
surv = [(surv_green_t, surv_green_v), (surv_orange_t, surv_orange_v),
        (surv_blue_t, surv_blue_v), (surv_pink_t, surv_pink_v)]
for (t, v), col in zip(surv, colours):
    ax_b.plot(t, v, color=col, lw=1.1, zorder=2)
ax_b.tick_params(labelbottom=False)
ax_b.set_ylabel('Through-Stage Survival, $\\mathregular{S_L}$', fontsize=12.5)

# Panel C
style_panel(ax_c, abund_ticks, abund_minor, (-0.05, 1.05), abund_labels)
for vals, col in zip([smooth_green, smooth_orange, smooth_blue, smooth_pink], colours):
    ax_c.plot(week_t, vals, color=col, lw=1.1, zorder=2)
ax_c.scatter(obs_t, obs_v, s=22, color='black', lw=0, zorder=3)
ax_c.set_ylabel('Normalised Abundance (km$\\mathregular{^2}$ )', fontsize=12.5)
ax_c.set_xlabel('Date', fontsize=12.5, labelpad=3)

# Panel letters
for letter, y in [('A', 12), ('B', 290), ('C', 560)]:
    fig.text(9 / 1171, 1 - y / 845, letter, fontsize=13, va='center', ha='left')

# Legend (title placed separately, indented past the keys)
fig.text(1018 / 1171, 1 - 372 / 845, '$\\mathregular{R_{frac}}$', fontsize=14,
         va='center', ha='left')
handles = [Line2D([], [], color=c, lw=1.1) for c in colours]
fig.legend(handles, series_labels,
           loc='upper left', bbox_to_anchor=(1005 / 1171, 1 - 384 / 845),
           frameon=False, fontsize=10.5, handlelength=1.2, handletextpad=1.2,
           labelspacing=0.28, borderaxespad=0)

fig.savefig('out.png', dpi=100)
